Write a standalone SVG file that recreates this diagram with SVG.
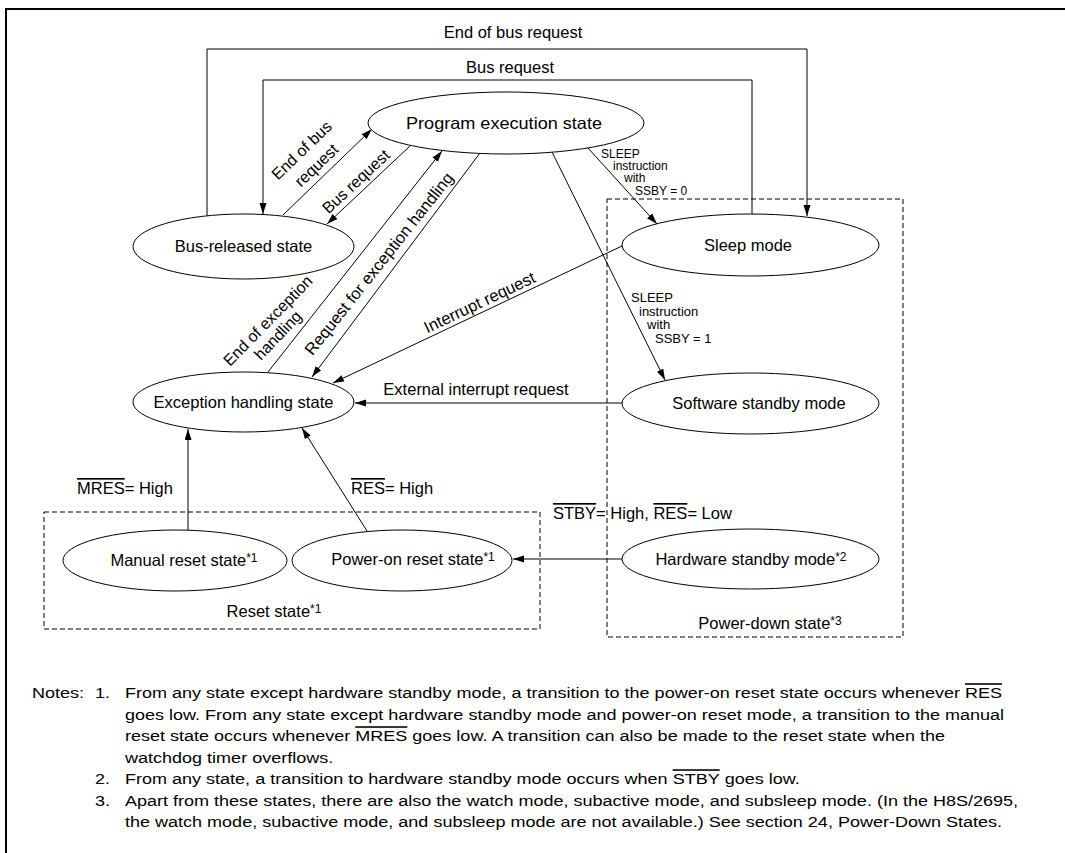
<svg xmlns="http://www.w3.org/2000/svg" width="1065" height="853" viewBox="0 0 1065 853">
<style>
text{font-family:"Liberation Sans",Arial,Helvetica,sans-serif;fill:#000}
.l{font-size:16.5px}
.r{font-size:16px}
.s{font-size:13px}
.s2{font-size:12px}
.nt{font-size:15.5px}
.sup{font-size:12px}
.o{text-decoration:overline}
.node ellipse{fill:#fff;stroke:#000;stroke-width:1}
.c{fill:none;stroke:#000;stroke-width:1}
.box{fill:none;stroke:#000;stroke-width:1;stroke-dasharray:5 3}
</style>
<defs>
<marker id="ah" markerUnits="userSpaceOnUse" markerWidth="12" markerHeight="8" refX="11" refY="3.5" orient="auto">
<path d="M0,0 L11,3.5 L0,7 z" fill="#000"/>
</marker>
</defs>
<rect width="1065" height="853" fill="#fff"/>
<path d="M6,853 V9 H1065" fill="none" stroke="#000" stroke-width="2"/>

<g id="reset-group">
<rect class="box" x="44" y="512" width="496" height="117"/>
<text class="l" x="274" y="617" text-anchor="middle">Reset state<tspan class="sup" dy="-4">*1</tspan></text>
</g>
<g id="powerdown-group">
<rect class="box" x="607" y="199" width="296" height="438"/>
<text class="l" x="770" y="629" text-anchor="middle">Power-down state<tspan class="sup" dy="-4">*3</tspan></text>
</g>

<g id="connectors">
<path class="c" d="M207,216 V49 H807 V216" marker-end="url(#ah)"/>
<path class="c" d="M752,214 V80 H263 V214" marker-end="url(#ah)"/>
<line class="c" x1="283" y1="215" x2="372" y2="129" marker-end="url(#ah)"/>
<line class="c" x1="410" y1="146" x2="327" y2="224" marker-end="url(#ah)"/>
<line class="c" x1="268" y1="372" x2="442" y2="151" marker-end="url(#ah)"/>
<line class="c" x1="480" y1="153" x2="312" y2="377" marker-end="url(#ah)"/>
<line class="c" x1="622" y1="246" x2="333" y2="383" marker-end="url(#ah)"/>
<line class="c" x1="622" y1="403" x2="355" y2="403" marker-end="url(#ah)"/>
<line class="c" x1="588" y1="148" x2="657" y2="224" marker-end="url(#ah)"/>
<line class="c" x1="552" y1="152" x2="665" y2="380" marker-end="url(#ah)"/>
<line class="c" x1="188" y1="530" x2="188" y2="429" marker-end="url(#ah)"/>
<line class="c" x1="367" y1="531" x2="302" y2="428" marker-end="url(#ah)"/>
<line class="c" x1="622" y1="559" x2="513" y2="559" marker-end="url(#ah)"/>

<text class="l" x="513" y="38" text-anchor="middle">End of bus request</text>
<text class="l" x="510" y="73" text-anchor="middle">Bus request</text>
<text class="r" text-anchor="middle" transform="translate(305.5,154.3) rotate(-44)">End of bus</text>
<text class="r" text-anchor="middle" transform="translate(320.2,169.3) rotate(-44)">request</text>
<text class="r" text-anchor="middle" transform="translate(359.7,185.5) rotate(-42.9)">Bus request</text>
<text class="r" transform="translate(230,367) rotate(-45.5)">End of exception</text>
<text class="r" transform="translate(261,361) rotate(-46.5)">handling</text>
<text class="l" transform="translate(312.6,356.2) rotate(-51.5)">Request for exception handling</text>
<text class="l" text-anchor="middle" transform="translate(482,307.5) rotate(-25.4)">Interrupt request</text>
<text class="l" x="476" y="395" text-anchor="middle">External interrupt request</text>
<text class="s2"><tspan x="601" y="157.5">SLEEP</tspan><tspan x="613" y="170">instruction</tspan><tspan x="624" y="182">with</tspan><tspan x="635" y="194.5">SSBY = 0</tspan></text>
<text class="s"><tspan x="631" y="302">SLEEP</tspan><tspan x="639" y="315.5">instruction</tspan><tspan x="647" y="329">with</tspan><tspan x="655" y="343">SSBY = 1</tspan></text>
<text class="l" x="77" y="494"><tspan class="o">MRES</tspan>= High</text>
<text class="l" x="351" y="494"><tspan class="o">RES</tspan>= High</text>
<text class="l" x="553" y="519"><tspan class="o">STBY</tspan>= High, <tspan class="o">RES</tspan>= Low</text>
</g>

<g id="program-execution" class="node">
<ellipse cx="506" cy="123" rx="138" ry="31"/>
<text class="l" x="406" y="129" textLength="196" lengthAdjust="spacingAndGlyphs">Program execution state</text>
</g>
<g id="bus-released" class="node">
<ellipse cx="243.5" cy="246.5" rx="110.5" ry="32.5"/>
<text class="l" x="243.5" y="252" text-anchor="middle">Bus-released state</text>
</g>
<g id="exception-handling" class="node">
<ellipse cx="243.5" cy="402" rx="110.5" ry="30"/>
<text class="l" x="243.5" y="408" text-anchor="middle">Exception handling state</text>
</g>
<g id="sleep-mode" class="node">
<ellipse cx="750.5" cy="245" rx="128.5" ry="31"/>
<text class="l" x="748" y="251" text-anchor="middle">Sleep mode</text>
</g>
<g id="software-standby" class="node">
<ellipse cx="750.5" cy="403.5" rx="128.5" ry="30.5"/>
<text class="l" x="759" y="409" text-anchor="middle">Software standby mode</text>
</g>
<g id="hardware-standby" class="node">
<ellipse cx="750.5" cy="559" rx="128.5" ry="30"/>
<text class="l" x="751" y="565" text-anchor="middle">Hardware standby mode<tspan class="sup" dy="-4">*2</tspan></text>
</g>
<g id="manual-reset" class="node">
<ellipse cx="175" cy="560.5" rx="112" ry="30.5"/>
<text class="l" x="184" y="566" text-anchor="middle">Manual reset state<tspan class="sup" dy="-4">*1</tspan></text>
</g>
<g id="power-on-reset" class="node">
<ellipse cx="402" cy="560.5" rx="110" ry="30.5"/>
<text class="l" x="413" y="565" text-anchor="middle">Power-on reset state<tspan class="sup" dy="-4">*1</tspan></text>
</g>

<g id="notes">
<text class="nt" transform="translate(32,698) scale(1.163,1)">Notes:</text>
<text class="nt" transform="translate(95,698) scale(1.163,1)">1.</text>
<text class="nt" transform="translate(125,698) scale(1.163,1)">From any state except hardware standby mode, a transition to the power-on reset state occurs whenever <tspan class="o">RES</tspan></text>
<text class="nt" transform="translate(125,719.5) scale(1.163,1)">goes low. From any state except hardware standby mode and power-on reset mode, a transition to the manual</text>
<text class="nt" transform="translate(125,741) scale(1.163,1)">reset state occurs whenever <tspan class="o">MRES</tspan> goes low. A transition can also be made to the reset state when the</text>
<text class="nt" transform="translate(125,762.5) scale(1.163,1)">watchdog timer overflows.</text>
<text class="nt" transform="translate(95,784) scale(1.163,1)">2.</text>
<text class="nt" transform="translate(125,784) scale(1.163,1)">From any state, a transition to hardware standby mode occurs when <tspan class="o">STBY</tspan> goes low.</text>
<text class="nt" transform="translate(95,805.5) scale(1.163,1)">3.</text>
<text class="nt" transform="translate(125,805.5) scale(1.163,1)">Apart from these states, there are also the watch mode, subactive mode, and subsleep mode. (In the H8S/2695,</text>
<text class="nt" transform="translate(125,827) scale(1.163,1)">the watch mode, subactive mode, and subsleep mode are not available.) See section 24, Power-Down States.</text>
</g>
</svg>
